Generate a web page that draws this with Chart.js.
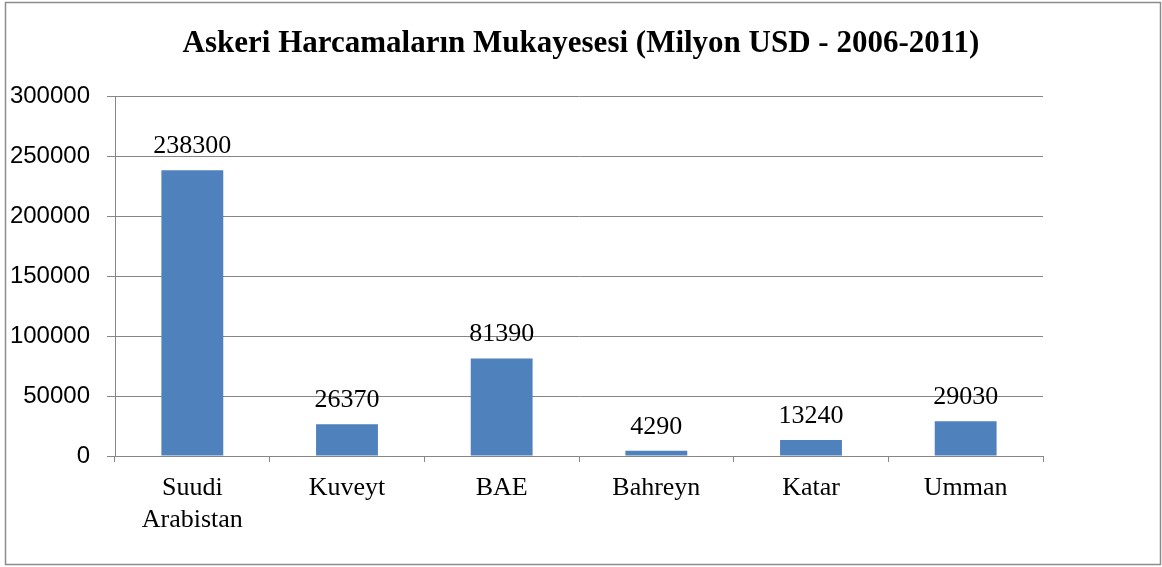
<!DOCTYPE html>
<html>
<head>
<meta charset="utf-8">
<script src="https://cdn.jsdelivr.net/npm/chart.js@4/dist/chart.umd.min.js"></script>
<style>
  body { margin: 0; background: #fff; }
  #wrap { width: 1162px; height: 567px; position: relative; }
</style>
</head>
<body>
<div id="wrap"><canvas id="harcamaChart"></canvas></div>
<script>
var COUNTRIES = [["Suudi", "Arabistan"], "Kuveyt", "BAE", "Bahreyn", "Katar", "Umman"];
var SPENDING = [238300, 26370, 81390, 4290, 13240, 29030];
var Y_TICKS = [0, 50000, 100000, 150000, 200000, 250000, 300000];
var TITLE = "Askeri Harcamaların Mukayesesi (Milyon USD - 2006-2011)";

var GRID_GREY = '#868686';
var BAR_BLUE = '#4f81bd';

// outer frame of the chart
var framePlugin = {
    id: 'frame',
    beforeDraw(chart) {
        var ctx = chart.ctx;
        ctx.save();
        ctx.fillStyle = '#fff';
        ctx.fillRect(0, 0, chart.width, chart.height);
        ctx.strokeStyle = '#8c8c8c';
        ctx.lineWidth = 1.5;
        ctx.strokeRect(5.5, 2.5, chart.width - 7, chart.height - 5);
        ctx.restore();
    }
};

// value labels above the bars
var valueLabels = {
    id: 'valueLabels',
    afterDatasetsDraw(chart) {
        var ctx = chart.ctx;
        var meta = chart.getDatasetMeta(0);
        ctx.save();
        ctx.font = '26px "Liberation Serif", "Times New Roman", serif';
        ctx.fillStyle = '#000';
        ctx.textAlign = 'center';
        ctx.textBaseline = 'alphabetic';
        meta.data.forEach((bar, i) => {
            ctx.fillText(String(chart.data.datasets[0].data[i]), bar.x, bar.y - 17);
        });
        ctx.restore();
    }
};

new Chart(document.getElementById('harcamaChart'), {
    type: 'bar',
    data: {
        labels: COUNTRIES,
        datasets: [{
            label: 'Askeri harcama',
            data: SPENDING,
            backgroundColor: BAR_BLUE,
            categoryPercentage: 1.0,
            barPercentage: 0.4
        }]
    },
    options: {
        responsive: true,
        maintainAspectRatio: false,
        animation: false,
        layout: { padding: 0 },
        plugins: {
            legend: { display: false },
            tooltip: { enabled: false },
            title: {
                display: true,
                text: TITLE,
                color: '#000',
                font: { family: '"Liberation Serif", "Times New Roman", serif', size: 31, weight: 'bold', lineHeight: 1.2 },
                padding: { top: 25, bottom: 34 }
            }
        },
        scales: {
            x: {
                grid: { display: true, drawOnChartArea: false, drawTicks: true, tickLength: 6, color: GRID_GREY, offset: true },
                border: { display: true, color: GRID_GREY, width: 1 },
                ticks: {
                    color: '#000',
                    autoSkip: false,
                    maxRotation: 0,
                    padding: 10,
                    font: { family: '"Liberation Serif", "Times New Roman", serif', size: 26, lineHeight: 1.23 }
                },
                afterFit(scale) { scale.height = 111; }
            },
            y: {
                min: 0,
                max: 300000,
                afterBuildTicks(scale) { scale.ticks = Y_TICKS.map(v => ({ value: v })); },
                grid: { color: GRID_GREY, lineWidth: 1, tickLength: 8 },
                border: { display: true, color: GRID_GREY, width: 1 },
                ticks: {
                    color: '#000',
                    padding: 17,
                    font: { family: '"Liberation Sans", Arial, sans-serif', size: 24 },
                    callback: v => String(v)
                },
                afterFit(scale) { scale.width = 115; }
            },
            yRight: {
                position: 'right',
                display: true,
                grid: { display: false },
                border: { display: false },
                ticks: { display: false },
                afterFit(scale) { scale.width = 119; }
            }
        }
    },
    plugins: [framePlugin, valueLabels]
});
</script>
</body>
</html>
